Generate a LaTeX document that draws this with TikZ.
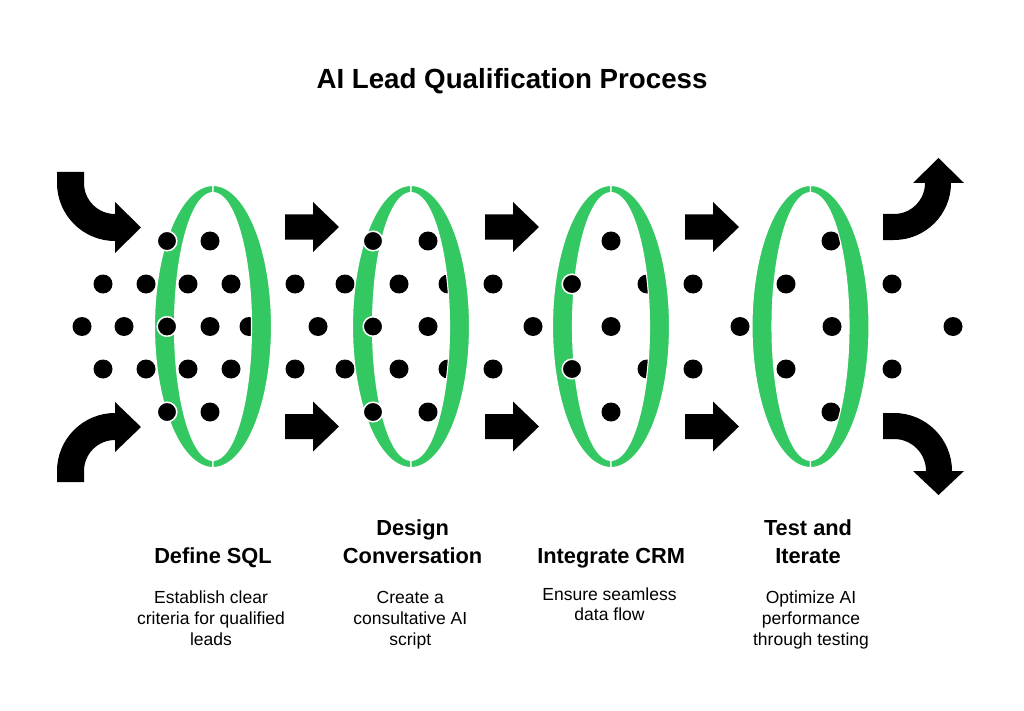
\documentclass[tikz,border=0pt]{standalone}
\usepackage{fontspec}
\setmainfont{Liberation Sans}
\definecolor{ringgreen}{RGB}{52,200,98}
\tikzset{
  bgdot/.style={fill=black},
  frontdot/.style={fill=black,draw=white,line width=1.5pt},
  band/.style={fill=ringgreen,draw=white,line width=1.1pt},
  arrowshape/.style={fill=black},
  titletext/.style={inner sep=0pt,anchor=base,font=\fontsize{27.7}{33}\selectfont\bfseries},
  headtext/.style={inner sep=0pt,anchor=base,font=\fontsize{21.8}{28}\selectfont\bfseries},
  desctext/.style={inner sep=0pt,anchor=base,font=\fontsize{17.5}{21}\selectfont}
}
\begin{document}
\begin{tikzpicture}[x=1pt,y=-1pt]
\useasboundingbox[fill=white] (0,0) rectangle (1024,711);

% title
\node[titletext] (title) at (512,88.3) {AI Lead Qualification Process};

% background dots
\foreach \x/\y in {210/241,428/241,611/241,831/241,
  103/284,146/284,188/284,231/284,295/284,345/284,399/284,448/284,493/284,647/284,693/284,786/284,892/284,
  82/326.5,124/326.5,210/326.5,249/326.5,318/326.5,428/326.5,533/326.5,611/326.5,740/326.5,832/326.5,953/326.5,
  103/369,146/369,188/369,231/369,295/369,345/369,399/369,448/369,493/369,647/369,693/369,786/369,892/369,
  210/412,428/412,611/412,831/412}
  \fill[bgdot] (\x,\y) circle[radius=9.5];

% rings: left halves
\foreach \cx in {213,411,611,810.5}{
  \filldraw[band] (\cx,185.5) arc[start angle=270,end angle=90,x radius=58.5,y radius=141]
     -- (\cx,460.5) arc[start angle=90,end angle=270,x radius=38.5,y radius=134] -- cycle;
}

% dots in front of the left halves
\foreach \x/\y in {167/241,167/326.5,167/412,373/241,373/326.5,373/412,572/284,572/369}
  \filldraw[frontdot] (\x,\y) circle[radius=9.8];

% rings: right halves
\foreach \cx in {213,411,611,810.5}{
  \filldraw[band] (\cx,185.5) arc[start angle=270,end angle=450,x radius=58.5,y radius=141]
     -- (\cx,460.5) arc[start angle=90,end angle=-90,x radius=38.5,y radius=134] -- cycle;
}

% straight arrows
\foreach \ax in {285,485,685}{
  \foreach \ay in {227,426.5}{
    \fill[arrowshape] (\ax,\ay-12.5) -- (\ax+28,\ay-12.5) -- (\ax+28,\ay-25) -- (\ax+54,\ay)
      -- (\ax+28,\ay+25) -- (\ax+28,\ay+12.5) -- (\ax,\ay+12.5) -- cycle;
  }
}

% curved arrow top left
\fill[arrowshape] (57,172) -- (84,172) -- (84,183) arc[start angle=180,end angle=90,radius=31]
  -- (115,202) -- (141,227.5) -- (115,253) -- (115,241)
  arc[start angle=90,end angle=180,radius=58] -- cycle;
% curved arrow bottom left
\fill[arrowshape] (57,482) -- (57,471) arc[start angle=180,end angle=270,radius=58]
  -- (115,402) -- (141,427) -- (115,452) -- (115,440)
  arc[start angle=270,end angle=180,radius=31] -- (84,482) -- cycle;
% curved arrow top right
\fill[arrowshape] (883,214) -- (894,214) arc[start angle=90,end angle=0,radius=31]
  -- (913,183) -- (938.5,158) -- (964,183) -- (951,183)
  arc[start angle=0,end angle=90,radius=57] -- (883,240) -- cycle;
% curved arrow bottom right
\fill[arrowshape] (883,413) -- (894,413) arc[start angle=270,end angle=360,radius=58]
  -- (964,471) -- (938.5,495) -- (913,471) -- (926,471)
  arc[start angle=0,end angle=-90,radius=32] -- (883,439) -- cycle;

% headings
\node[headtext] (h1) at (213,563) {Define SQL};
\node[headtext] (h2a) at (412.6,535) {Design};
\node[headtext] (h2b) at (412.6,563) {Conversation};
\node[headtext] (h3) at (611.2,563) {Integrate CRM};
\node[headtext] (h4a) at (808,535) {Test and};
\node[headtext] (h4b) at (808,563) {Iterate};

% descriptions
\node[desctext] (d1a) at (211,603.3) {Establish clear};
\node[desctext] (d1b) at (211,624) {criteria for qualified};
\node[desctext] (d1c) at (211,645) {leads};
\node[desctext] (d2a) at (410.3,603.3) {Create a};
\node[desctext] (d2b) at (410.3,624) {consultative AI};
\node[desctext] (d2c) at (410.3,645) {script};
\node[desctext] (d3a) at (609.5,600) {Ensure seamless};
\node[desctext] (d3b) at (609.5,620.7) {data flow};
\node[desctext] (d4a) at (811,603.3) {Optimize AI};
\node[desctext] (d4b) at (811,624) {performance};
\node[desctext] (d4c) at (811,645) {through testing};
\end{tikzpicture}
\end{document}
